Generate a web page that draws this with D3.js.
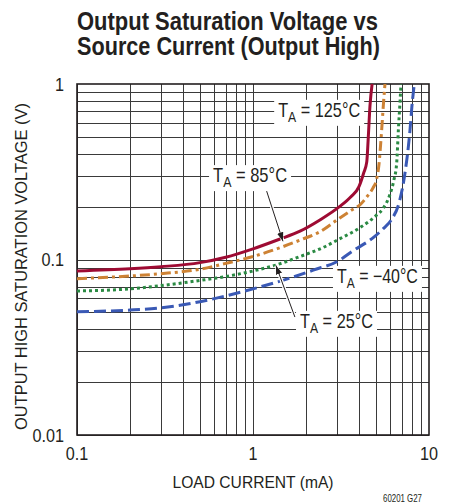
<!DOCTYPE html>
<html><head><meta charset="utf-8">
<script src="https://cdn.jsdelivr.net/npm/d3@7"></script>
<style>
body{margin:0;background:#fff}
svg{display:block}
text{font-family:"Liberation Sans","Arial",sans-serif;fill:#231f20}
</style>
</head><body><svg id="c" width="449" height="504"></svg>
<script>
// ---- data ----
const titleLines = ["Output Saturation Voltage vs", "Source Current (Output High)"];
const xTickVals = [0.1, 1, 10];
const xTickLabels = ["0.1", "1", "10"];
const yTickVals = [0.01, 0.1, 1];
const yTickLabels = ["0.01", "0.1", "1"];

const curr125 = [0.1, 0.2, 0.3, 0.5, 0.7, 1.0, 1.4, 1.85, 2.4, 3.1, 3.6, 4.0, 4.25, 4.43, 4.52, 4.62, 4.75];
const volt125 = [0.086, 0.0885, 0.091, 0.096, 0.103, 0.115, 0.13, 0.145, 0.168, 0.2, 0.228, 0.26, 0.31, 0.36, 0.5, 0.75, 1.0];

const curr85 = [0.1, 0.2, 0.3, 0.5, 0.7, 1.0, 1.4, 1.85, 2.4, 3.1, 3.6, 4.1, 4.5, 4.8, 5.05, 5.2, 5.35, 5.5, 5.62];
const volt85 = [0.0777, 0.0805, 0.083, 0.088, 0.095, 0.104, 0.116, 0.129, 0.144, 0.172, 0.19, 0.207, 0.232, 0.255, 0.29, 0.35, 0.5, 0.75, 1.0];

const curr25 = [0.1, 0.2, 0.3, 0.5, 0.7, 1.0, 1.35, 1.85, 2.5, 3.1, 4.1, 5.0, 5.5, 6.0, 6.3, 6.55, 6.7, 6.85, 6.93];
const volt25 = [0.0662, 0.068, 0.071, 0.076, 0.08, 0.086, 0.093, 0.104, 0.117, 0.131, 0.153, 0.178, 0.196, 0.235, 0.28, 0.353, 0.55, 0.8, 1.0];

const currM40 = [0.1, 0.2, 0.3, 0.5, 0.7, 1.0, 1.6, 2.2, 3.1, 3.6, 4.9, 5.5, 6.1, 6.8, 7.3, 7.8, 8.0, 8.25];
const voltM40 = [0.0504, 0.0515, 0.053, 0.0575, 0.062, 0.068, 0.078, 0.087, 0.099, 0.11, 0.135, 0.15, 0.168, 0.215, 0.31, 0.547, 0.75, 1.0];

const seriesNames = ["125", "85", "25", "-40"];
const seriesColors = ["#9e0b33", "#cd8234", "#2a8a43", "#3a59b5"];
const seriesDash = [null, "10,4,3,4", "3,3", "12,5"];

// annotations (data coordinates)
const labelText = ["125°C", "85°C", "−40°C", "25°C"];
const labelPos = [[1.39, 0.65], [0.593, 0.276], [3.0, 0.0736], [1.85, 0.0408]];
const arrows = [[[1.17, 0.262], [1.48, 0.127]], [[1.73, 0.047], [1.35, 0.0925]]];

// ---- layout ----
const svg = d3.select("#c");
const L = 77, R = 429, T = 84, B = 435;
const x = d3.scaleLog().domain([0.1, 10]).range([L, R]);
const y = d3.scaleLog().domain([0.01, 1]).range([B, T]);

// title
const titleW = [301, 303];
svg.append("g").selectAll("text").data(titleLines).join("text")
  .attr("x", L).attr("y", (d, i) => 30 + i * 25)
  .attr("font-size", 25.5).attr("font-weight", "bold")
  .attr("textLength", (d, i) => titleW[i]).attr("lengthAdjust", "spacingAndGlyphs")
  .text(d => d);

// grid
const gx = [], gy = [];
[0.1, 1].forEach(dec => { for (let k = 1; k <= 9; k++) gx.push(dec * k); });
[0.01, 0.1].forEach(dec => { for (let k = 1; k <= 9; k++) gy.push(dec * k); });
const grid = svg.append("g").attr("stroke", "#3a3a3a").attr("stroke-width", 1);
grid.selectAll("line.vx").data(gx).join("line")
  .attr("x1", d => Math.round(x(d)) + 0.5).attr("x2", d => Math.round(x(d)) + 0.5)
  .attr("y1", T).attr("y2", B);
grid.selectAll("line.hy").data(gy).join("line")
  .attr("y1", d => Math.round(y(d)) + 0.5).attr("y2", d => Math.round(y(d)) + 0.5)
  .attr("x1", L).attr("x2", R);

// frame
svg.append("rect").attr("x", L).attr("y", T).attr("width", R - L).attr("height", B - T)
  .attr("fill", "none").attr("stroke", "#231f20").attr("stroke-width", 1.6);

// curves
const seriesData = [
  d3.zip(curr125, volt125), d3.zip(curr85, volt85), d3.zip(curr25, volt25), d3.zip(currM40, voltM40)
];
svg.append("clipPath").attr("id", "pc").append("rect")
  .attr("x", L).attr("y", T).attr("width", R - L).attr("height", B - T);
const line = d3.line().x(d => x(d[0])).y(d => y(d[1])).curve(d3.curveMonotoneX);
const curves = svg.append("g").attr("clip-path", "url(#pc)");
seriesData.forEach((s, i) => {
  curves.append("path").attr("d", line(s)).attr("fill", "none")
    .attr("stroke", seriesColors[i]).attr("stroke-width", 3)
    .attr("stroke-dasharray", seriesDash[i]);
});

// arrows
const defs = svg.append("defs");
defs.append("marker").attr("id", "ah").attr("viewBox", "0 0 10 10").attr("refX", 10).attr("refY", 5)
  .attr("markerWidth", 9).attr("markerHeight", 9).attr("markerUnits", "userSpaceOnUse").attr("orient", "auto")
  .append("path").attr("d", "M0,1.5 L10,5 L0,8.5 Z").attr("fill", "#231f20");
arrows.forEach(a => {
  svg.append("line").attr("x1", x(a[0][0])).attr("y1", y(a[0][1])).attr("x2", x(a[1][0])).attr("y2", y(a[1][1]))
    .attr("stroke", "#fff").attr("stroke-width", 3.5);
  svg.append("line").attr("x1", x(a[0][0])).attr("y1", y(a[0][1])).attr("x2", x(a[1][0])).attr("y2", y(a[1][1]))
    .attr("stroke", "#231f20").attr("stroke-width", 1).attr("marker-end", "url(#ah)");
});

// labels (condensed by horizontal scaling)
const labelW = [82, 74, 81, 73];
labelText.forEach((t, i) => {
  const px = x(labelPos[i][0]), py = y(labelPos[i][1]);
  const g = svg.append("g");
  const bg = g.append("rect").attr("fill", "#fff");
  const tx = g.append("text").attr("x", 0).attr("y", 0).attr("font-size", 20);
  tx.append("tspan").text("T");
  tx.append("tspan").attr("font-size", 15).attr("dy", 5).text("A");
  tx.append("tspan").attr("dy", -5).text(" = " + t);
  const b = tx.node().getBBox();
  const s = labelW[i] / b.width;
  const padX = 4 / s;
  bg.attr("x", b.x - padX).attr("y", b.y + 1).attr("width", b.width + 2 * padX).attr("height", b.height);
  g.attr("transform", `translate(${px},${py}) scale(${s},1)`);
});

// axis tick labels
svg.append("g").selectAll("text").data(xTickVals).join("text")
  .attr("x", d => x(d)).attr("y", 460).attr("text-anchor", "middle").attr("font-size", 18)
  .attr("transform", d => `translate(${x(d)},0) scale(0.9,1) translate(${-x(d)},0)`)
  .text((d, i) => xTickLabels[i]);
svg.append("g").selectAll("text").data(yTickVals).join("text")
  .attr("x", 64).attr("y", d => y(d) + 7).attr("text-anchor", "end").attr("font-size", 18)
  .attr("transform", "translate(64,0) scale(0.9,1) translate(-64,0)")
  .text((d, i) => yTickLabels[i]);

// axis titles
svg.append("text").attr("x", (L + R) / 2).attr("y", 488).attr("text-anchor", "middle")
  .attr("font-size", 17).attr("textLength", 161).attr("lengthAdjust", "spacingAndGlyphs")
  .text("LOAD CURRENT (mA)");
svg.append("text").attr("transform", `translate(27,266.5) rotate(-90)`)
  .attr("text-anchor", "middle").attr("font-size", 17)
  .attr("textLength", 327).attr("lengthAdjust", "spacingAndGlyphs")
  .text("OUTPUT HIGH SATURATION VOLTAGE (V)");

// footnote
svg.append("text").attr("x", 422).attr("y", 502).attr("text-anchor", "end")
  .attr("font-size", 10).attr("textLength", 39).attr("lengthAdjust", "spacingAndGlyphs")
  .text("60201 G27");
</script></body></html>
